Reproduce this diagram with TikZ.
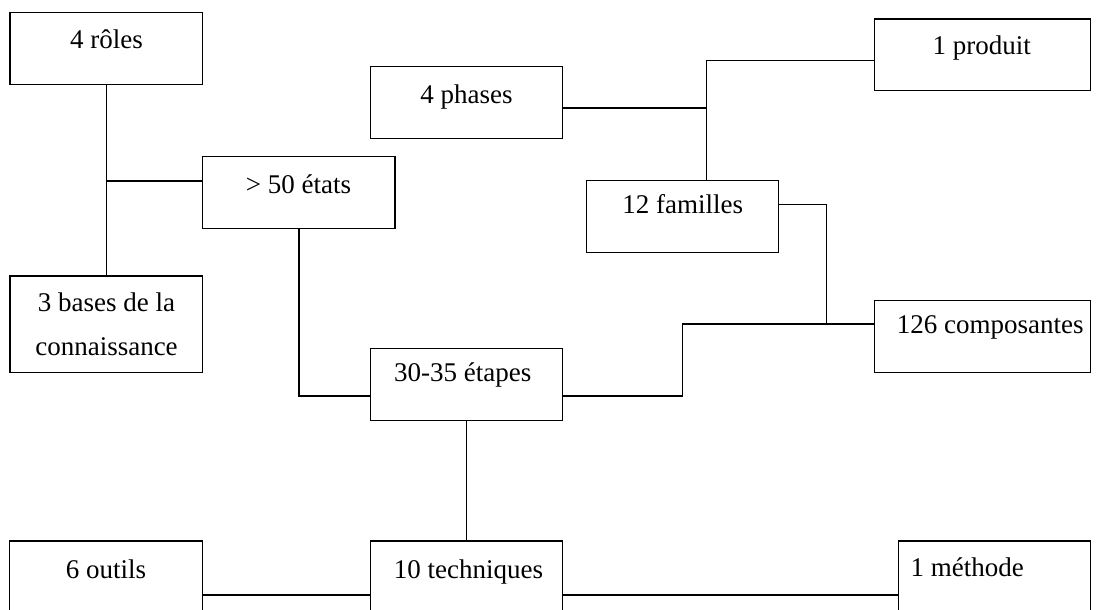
\documentclass[tikz,border=0pt]{standalone}
\usepackage{fontspec}
\setmainfont{Liberation Serif}
\begin{document}
\begin{tikzpicture}[x=1pt,y=-1pt,
  box/.style={draw=black, line width=1.3pt, rectangle, inner sep=0pt},
  lbl/.style={inner sep=0pt, anchor=base, font=\fontsize{27}{36}\selectfont},
  conn/.style={draw=black, line width=1.3pt}]
\clip (0,0) rectangle (1104,610);
\fill[white] (0,0) rectangle (1104,610);
% boxes
\node[box, minimum width=192.5pt, minimum height=72pt] (roles) at (106.25,48.5) {};
\node[box, minimum width=192.5pt, minimum height=96.7pt] (bases) at (106.25,324.35) {};
\node[box, minimum width=192.3pt, minimum height=72pt] (etats) at (298.85,192.7) {};
\node[box, minimum width=192.2pt, minimum height=72pt] (phases) at (466.6,102.7) {};
\node[box, minimum width=191.6pt, minimum height=72pt] (familles) at (682.5,216.7) {};
\node[box, minimum width=216.4pt, minimum height=71.7pt] (produit) at (982.5,54.85) {};
\node[box, minimum width=216.4pt, minimum height=71.6pt] (compos) at (982.5,336.5) {};
\node[box, minimum width=192.4pt, minimum height=72pt] (etapes) at (466.5,384.7) {};
\node[box, minimum width=193.2pt, minimum height=72pt] (outils) at (106.2,577) {};
\node[box, minimum width=192.2pt, minimum height=72pt] (techniques) at (466.5,577) {};
\node[box, minimum width=191.8pt, minimum height=72pt] (methode) at (994.5,577) {};
% labels
\node[lbl] (roles-t) at (106.5,48.3) {4 rôles};
\node[lbl] (bases-t1) at (106.5,311) {3 bases de la};
\node[lbl] (bases-t2) at (106.5,355) {connaissance};
\node[lbl] (etats-t) at (298.5,193.3) {> 50 états};
\node[lbl] (phases-t) at (466.5,103.3) {4 phases};
\node[lbl] (familles-t) at (682.8,213.3) {12 familles};
\node[lbl] (produit-t) at (981.7,55) {1 produit};
\node[lbl, anchor=base west] (compos-t) at (896.7,333.3) {126 composantes};
\node[lbl] (etapes-t) at (462.8,381.7) {30-35 étapes};
\node[lbl] (outils-t) at (106,578.3) {6 outils};
\node[lbl] (techniques-t) at (468.5,578.3) {10 techniques};
\node[lbl, anchor=base west] (methode-t) at (910.5,576) {1 méthode};
% junctions
\coordinate (j1) at (706.7,108);
\coordinate (j2) at (826.7,324);
\coordinate (j3) at (682.3,324);
% connectors
\draw[conn] (roles.south) -- (bases.north);
\draw[conn] (roles.south |- 0,181) -- ([yshift=11.7pt]etats.west);
\draw[conn] (etats.south) |- ([yshift=-11.3pt]etapes.west);
\draw[conn] ([yshift=-5.3pt]phases.east) -- (j1);
\draw[conn] ([yshift=-5.85pt]produit.west) -| (j1) -- (j1 |- familles.north);
\draw[conn] ([yshift=12pt]familles.east) -| (j2);
\draw[conn] ([yshift=12.5pt]compos.west) -- (j3) |- ([yshift=-11.3pt]etapes.east);
\draw[conn] (etapes.south) -- (techniques.north);
\draw[conn] ([yshift=-18pt]outils.east) -- ([yshift=-18pt]techniques.west);
\draw[conn] ([yshift=-18pt]techniques.east) -- ([yshift=-18pt]methode.west);
\end{tikzpicture}
\end{document}
